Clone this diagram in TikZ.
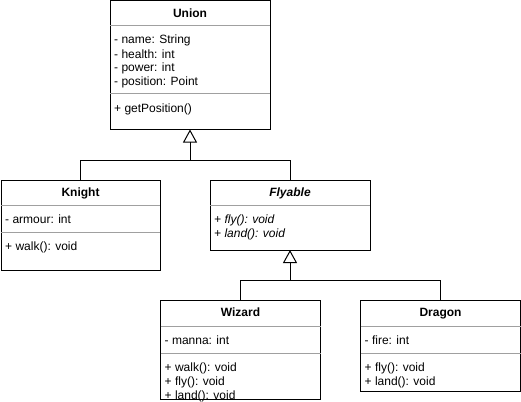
\documentclass[tikz,border=0pt]{standalone}
\usepackage{fontspec}
\setmainfont{Liberation Sans}
\usetikzlibrary{arrows.meta}
\definecolor{divider}{RGB}{160,160,160}

\tikzset{
  classbox/.style={draw=black,line width=1pt,anchor=north west,inner sep=0pt,outer sep=0pt},
  classname/.style={font=\fontsize{12}{14}\selectfont\bfseries,inner sep=0pt,text height=8.6pt,text depth=0pt},
  members/.style={font=\fontsize{12}{14}\selectfont,align=left,anchor=north west,inner sep=0pt},
  divline/.style={draw=divider,line width=1pt},
  extends/.style={line width=1pt,-{Triangle[open,width=14pt,length=13pt]}}
}

\begin{document}
\begin{tikzpicture}[x=1pt,y=-1pt]
  \useasboundingbox (0,0) rectangle (521,401);
  % classes
  \foreach \n/\x/\y/\w/\h/\t in {
    union/110/0.5/160/129/Union,
    knight/1/180/159/90/Knight,
    flyable/210/180/160/70/\textit{Flyable},
    wizard/160.5/300/160/99.5/Wizard,
    dragon/360.5/300/160/91/Dragon}
  {
    \node[classbox,minimum width=\w pt,minimum height=\h pt] (\n) at (\x,\y) {};
    \node[classname] (\n-name) at ([yshift=-12.5pt]\n.north) {\t};
  }
  % compartments
  \foreach \n/\s in {union/26,union/94,knight/205,knight/232,flyable/205,
                     wizard/326,wizard/353,dragon/326,dragon/353}
    \draw[divline] (\n.west |- 0,\s) -- (\n.east |- 0,\s);
  \foreach \n/\k/\s/\txt in {
    union/attrs/34/{- name: String\\- health: int\\- power: int\\- position: Point},
    union/ops/102/{+ getPosition()},
    knight/attrs/213/{- armour: int},
    knight/ops/240/{+ walk(): void},
    flyable/ops/213/{\textit{+ fly(): void}\\\textit{+ land(): void}},
    wizard/attrs/334/{- manna: int},
    wizard/ops/361/{+ walk(): void\\+ fly(): void\\+ land(): void},
    dragon/attrs/334/{- fire: int},
    dragon/ops/361/{+ fly(): void\\+ land(): void}}
    \node[members] (\n-\k) at ([xshift=4pt]\n.west |- 0,\s) {\strut\txt};
  % inheritance
  \coordinate (fork1) at (union.south |- 0,160);
  \coordinate (fork2) at (flyable.south |- 0,280);
  \draw[extends] (fork1) -- (union.south);
  \draw[line width=1pt] (knight.north) |- (fork1);
  \draw[line width=1pt] (flyable.north) |- (fork1);
  \draw[extends] (fork2) -- (flyable.south);
  \draw[line width=1pt] (wizard.north) |- (fork2);
  \draw[line width=1pt] (dragon.north) |- (fork2);
\end{tikzpicture}
\end{document}
